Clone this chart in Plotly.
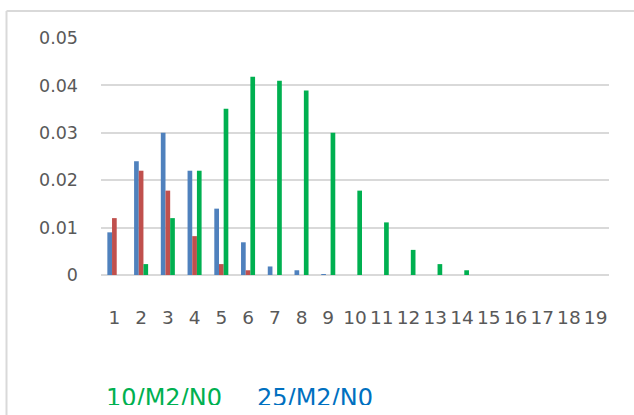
import plotly.graph_objects as go

# ---- data ----
categories = ["1", "2", "3", "4", "5", "6", "7", "8", "9", "10",
              "11", "12", "13", "14", "15", "16", "17", "18", "19"]
series_blue = [0.009, 0.024, 0.030, 0.022, 0.014, 0.0069, 0.0018, 0.001, 0.0002,
               0, 0, 0, 0, 0, 0, 0, 0, 0, 0]
series_red = [0.012, 0.022, 0.0178, 0.0082, 0.0023, 0.001, 0, 0, 0,
              0, 0, 0, 0, 0, 0, 0, 0, 0, 0]
series_green = [0, 0.0023, 0.012, 0.022, 0.0351, 0.0418, 0.041, 0.0389, 0.030,
                0.0178, 0.0111, 0.0053, 0.0023, 0.001, 0, 0, 0, 0, 0]
y_ticks = [0, 0.01, 0.02, 0.03, 0.04, 0.05]
y_tick_labels = ["0", "0.01", "0.02", "0.03", "0.04", "0.05"]
legend_labels = ["10/M2/N0", "25/M2/N0"]
legend_colors = ["#00B050", "#0070C0"]

# ---- layout constants ----
W, H = 634, 415
ML, MR, MT, MB = 101, 25, 38, 140
PW, PH = W - ML - MR, H - MT - MB


def px_x(px):
    return (px - ML) / PW


def px_y(py):
    return (H - MB - py) / PH


FONT = "DejaVu Sans"
fig = go.Figure()
for vals, col in [(series_blue, "#4F81BD"), (series_red, "#C0504D"), (series_green, "#00B050")]:
    fig.add_trace(go.Bar(x=categories, y=vals, marker=dict(color=col, line=dict(width=0)),
                         showlegend=False))

shapes = [
    dict(type="line", xref="paper", yref="paper", x0=px_x(6.5), x1=px_x(6.5),
         y0=px_y(11), y1=px_y(H + 2), line=dict(color="#D9D9D9", width=2)),
    dict(type="line", xref="paper", yref="paper", x0=px_x(6.5), x1=px_x(W + 2),
         y0=px_y(11), y1=px_y(11), line=dict(color="#D9D9D9", width=2)),
]

annotations = []
legend_x = [105, 256]
for lbl, col, lx in zip(legend_labels, legend_colors, legend_x):
    annotations.append(dict(text=lbl, xref="paper", yref="paper", x=px_x(lx), y=px_y(383),
                            xanchor="left", yanchor="top", valign="top", showarrow=False,
                            height=21, borderpad=0,
                            font=dict(family=FONT, size=24, color=col)))

fig.update_layout(
    width=W, height=H, margin=dict(l=ML, r=MR, t=MT, b=MB),
    paper_bgcolor="white", plot_bgcolor="white",
    barmode="group", bargap=0.475, bargroupgap=0,
    font=dict(family=FONT, size=17.5, color="#595959"),
    xaxis=dict(type="category", showgrid=False, showline=False, zeroline=False,
               ticks="", ticklabelstandoff=29, tickangle=0,
               tickfont=dict(family=FONT, size=18.5, color="#595959")),
    yaxis=dict(range=[0, 0.05], tickvals=y_ticks, ticktext=y_tick_labels,
               showgrid=True, gridcolor="#D9D9D9", gridwidth=1.5,
               zeroline=True, zerolinecolor="#D9D9D9", zerolinewidth=1.5,
               showline=False, ticks="", ticklabelstandoff=22,
               tickfont=dict(family=FONT, size=17.5, color="#595959")),
    shapes=shapes, annotations=annotations,
)

fig.write_html("out.html")
